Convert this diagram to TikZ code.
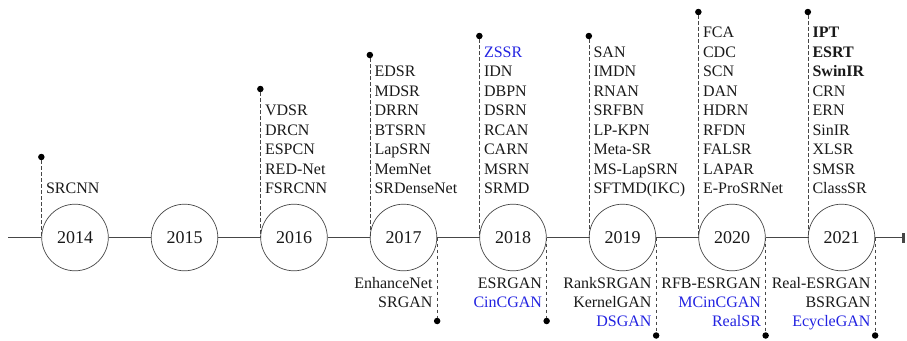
\documentclass[tikz,border=0pt]{standalone}
\usepackage{fontspec}
\setmainfont{Liberation Serif}
\usetikzlibrary{arrows.meta}
\definecolor{modelblue}{RGB}{35,35,225}
\definecolor{ink}{RGB}{25,25,25}
\definecolor{rulegray}{RGB}{70,70,70}

% #1 year, #2 pin y, #3 first baseline y, #4 model names (top, left aligned)
\newcommand\uplist[4]{%
  \node[pin] (tp#1) at (y#1.west |- 0,#2) {};
  \draw[guide] (tp#1) -- (y#1.west);
  \foreach \n [count=\k from 0] in {#4}
    \node[topname] (tn#1-\k) at (y#1.west |- 0,{#3+19.5*\k}) {\n};
}
% #1 year, #2 pin y, #3 model names (bottom, right aligned)
\newcommand\downlist[3]{%
  \node[pin] (bp#1) at (y#1.east |- 0,#2) {};
  \draw[guide] (y#1.east) -- (bp#1);
  \foreach \n [count=\k from 0] in {#3}
    \node[botname] (bn#1-\k) at (y#1.east |- 0,{288+19.3*\k}) {\n};
}
\newcommand\gan[1]{\textcolor{modelblue}{#1}}

\begin{document}
\begin{tikzpicture}[x=1pt,y=-1pt,
  year/.style={circle,draw=rulegray,line width=0.7pt,minimum size=66.6pt,
    inner sep=0pt,font=\fontsize{18}{20}\selectfont,text=ink},
  axis/.style={draw=rulegray,line width=0.8pt},
  guide/.style={draw=rulegray,line width=0.6pt,dash pattern=on 3.5pt off 2.5pt},
  pin/.style={circle,fill=black,inner sep=0pt,minimum size=6.5pt},
  topname/.style={anchor=base west,inner sep=0pt,xshift=4.5pt,
    font=\fontsize{16}{19.5}\selectfont,text=ink},
  botname/.style={anchor=base east,inner sep=0pt,xshift=-4.5pt,
    font=\fontsize{16}{19.5}\selectfont,text=ink}]
\useasboundingbox (0,0) rectangle (907,340);

% year circles along the time axis
\foreach \yr [count=\i from 0] in {2014,2015,2016,2017,2018,2019,2020,2021}
  \node[year] (y\yr) at ({75+109.5*\i},237.5) {\yr};

% time axis
\coordinate (axstart) at (8,237.5);
\coordinate (axend) at (905,237.5);
\draw[axis] (axstart) -- (y2014);
\foreach \a/\b in {2014/2015,2015/2016,2016/2017,2017/2018,2018/2019,2019/2020,2020/2021}
  \draw[axis] (y\a) -- (y\b);
\draw[axis,-{Rectangle[length=3.5pt,width=10pt]}] (y2021) -- (axend);

% models above the axis
\uplist{2014}{157}{193.5}{SRCNN}
\uplist{2016}{89}{115.5}{VDSR,DRCN,ESPCN,RED-Net,FSRCNN}
\uplist{2017}{55}{76.5}{EDSR,MDSR,DRRN,BTSRN,LapSRN,MemNet,SRDenseNet}
\uplist{2018}{36}{57}{\gan{ZSSR},IDN,DBPN,DSRN,RCAN,CARN,MSRN,SRMD}
\uplist{2019}{36}{57}{SAN,IMDN,RNAN,SRFBN,LP-KPN,Meta-SR,MS-LapSRN,SFTMD(IKC)}
\uplist{2020}{12}{37.5}{FCA,CDC,SCN,DAN,HDRN,RFDN,FALSR,LAPAR,E-ProSRNet}
\uplist{2021}{12}{37.5}{\textbf{IPT},\textbf{ESRT},\textbf{SwinIR},CRN,ERN,SinIR,XLSR,SMSR,ClassSR}

% models below the axis
\downlist{2017}{321}{EnhanceNet,SRGAN}
\downlist{2018}{321}{ESRGAN,\gan{CinCGAN}}
\downlist{2019}{335.5}{RankSRGAN,KernelGAN,\gan{DSGAN}}
\downlist{2020}{335.5}{RFB-ESRGAN,\gan{MCinCGAN},\gan{RealSR}}
\downlist{2021}{335.5}{Real-ESRGAN,BSRGAN,\gan{EcycleGAN}}
\end{tikzpicture}
\end{document}
